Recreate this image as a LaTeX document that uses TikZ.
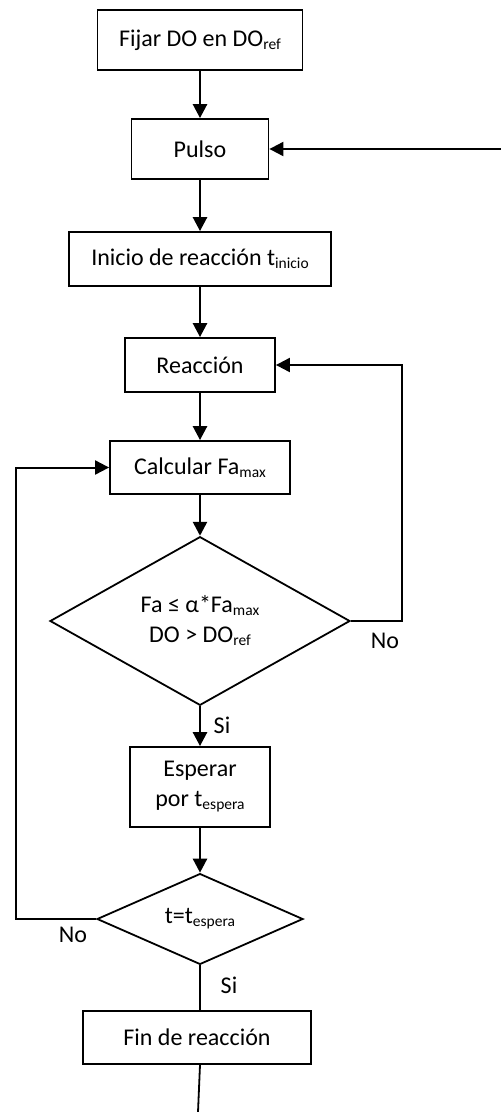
\documentclass[tikz,border=0pt]{standalone}
\usepackage{fontspec}
\setmainfont{Carlito}
\usetikzlibrary{shapes.geometric,arrows.meta}
% lowered, smaller text for indices such as DO_ref
\newcommand\subtx[1]{\raisebox{-3pt}{\fontsize{15.5}{16}\selectfont #1}}

\begin{document}
\begin{tikzpicture}[x=1pt,y=-1pt,
  every node/.style={font=\fontsize{24}{30}\selectfont},
  box/.style={draw, line width=1.8pt, rectangle, inner sep=0pt, align=center},
  dec/.style={draw, line width=1.8pt, diamond, inner sep=0pt, align=center},
  arr/.style={line width=2.6pt, -{Triangle[length=14pt,width=14pt]}},
  back/.style={line width=2pt, -{Triangle[length=14pt,width=14pt]}},
  plain/.style={line width=1.8pt},
  lbl/.style={inner sep=0pt}]

\useasboundingbox (0,0) rectangle (501,1112);
\fill[white] (0,0) rectangle (501,1112);

% process steps and decisions
\node[box, minimum width=205pt, minimum height=60pt] (fijar) at (200,40) {Fijar DO en DO\subtx{ref}};
\node[box, minimum width=137pt, minimum height=60pt] (pulso) at (200,149) {Pulso};
\node[box, minimum width=262pt, minimum height=54pt] (inicio) at (200,259) {Inicio de reacción t\subtx{inicio}};
\node[box, minimum width=150pt, minimum height=54pt] (reac) at (200,365) {Reacción};
\node[box, minimum width=180pt, minimum height=53pt] (calc) at (200,467.5) {Calcular Fa\subtx{max}};
\node[dec, minimum width=300pt, minimum height=150pt] (cond) at (200,621) {Fa ≤ α*Fa\subtx{max}\\DO > DO\subtx{ref}};
\node[box, minimum width=140pt, minimum height=80pt] (esperar) at (200,787) {Esperar\\por t\subtx{espera}};
\node[dec, minimum width=206pt, minimum height=80pt] (tcheck) at (200,919) {t=t\subtx{espera}};
\node[box, minimum width=228pt, minimum height=53pt] (fin) at (197,1037.5) {Fin de reacción};

% branch labels
\node[lbl] (no1) at (385,641) {No};
\node[lbl] (si1) at (222,725) {Si};
\node[lbl] (no2) at (73,935) {No};
\node[lbl] (si2) at (229,985) {Si};

% loose ends and turning points of the loops
\coordinate (pin) at (501,149);
\coordinate (rloop) at (402,0);
\coordinate (lloop) at (16,0);
\coordinate (endpt) at (198,1112);

% main flow
\draw[arr] (fijar) -- (pulso);
\draw[back] (pin) -- (pulso);
\draw[arr] (pulso) -- (inicio);
\draw[arr] (inicio) -- (reac);
\draw[arr] (reac) -- (calc);
\draw[arr] (calc) -- (cond);
\draw[arr] (cond) -- (esperar);
\draw[arr] (esperar) -- (tcheck);
\draw[plain] (tcheck.south) -- (tcheck.south |- fin.north);
\draw[plain] (tcheck.south |- fin.south) -- (endpt);

% loops back
\draw[back] (cond.east) -- (rloop |- cond.east) |- (reac.east);
\draw[back] (tcheck.west) -- (lloop |- tcheck.west) |- (calc.west);
\end{tikzpicture}
\end{document}
